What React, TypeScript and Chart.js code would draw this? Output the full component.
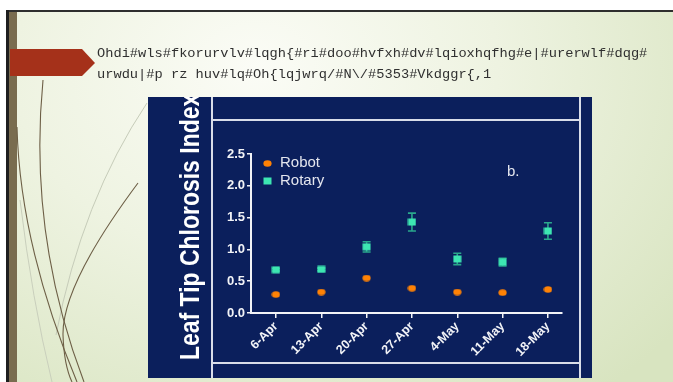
import React, { useEffect, useRef } from "react";
import { Chart, registerables } from "chart.js";

Chart.register(...registerables);

// ---- data ----
const categories = ["6-Apr", "13-Apr", "20-Apr", "27-Apr", "4-May", "11-May", "18-May"];
const seriesNames = ["Robot", "Rotary"];
const robotValues = [0.29, 0.33, 0.55, 0.39, 0.33, 0.32, 0.37];
const rotaryValues = [0.68, 0.685, 1.04, 1.43, 0.85, 0.8, 1.29];
const rotaryErrors = [0.02, 0.02, 0.08, 0.14, 0.09, 0.06, 0.13];
const yTicks = [0, 0.5, 1.0, 1.5, 2.0, 2.5];
const yTitle = "Leaf Tip Chlorosis Index";
const panelLabel = "b.";
const slideTitleLines = [
  "Ohdi#wls#fkorurvlv#lqgh{#ri#doo#hvfxh#dv#lqioxhqfhg#e|#urerwlf#dqg#",
  "urwdu|#p rz huv#lq#Oh{lqjwrq/#N\\/#5353#Vkdggr{,1",
];

// ---- styles ----
const NAVY = "#0b1f5c";
const ORANGE = "#ff8205";
const TEAL = "#3de6b2";
const TEAL_DARK = "#2aa88c";
const WHITE = "#f2f3f7";
const LEGEND_TEXT = "#e4e6ee";
const LINE = "#d9dde9";
const SANS = "'Liberation Sans', Arial, sans-serif";

function makeMarker(w: number, h: number, draw: (g: CanvasRenderingContext2D) => void) {
  const c = document.createElement("canvas");
  c.width = w;
  c.height = h;
  const g = c.getContext("2d")!;
  draw(g);
  return c;
}

export default function App() {
  const canvasRef = useRef<HTMLCanvasElement>(null);

  useEffect(() => {
    const canvas = canvasRef.current!;
    const robotMarker = makeMarker(9, 7, (g) => {
      g.fillStyle = ORANGE;
      g.beginPath();
      g.ellipse(4.5, 3.5, 4.1, 3.2, 0, 0, Math.PI * 2);
      g.fill();
    });
    const rotaryMarker = makeMarker(9, 8, (g) => {
      g.fillStyle = TEAL;
      g.fillRect(0.5, 0.5, 8, 7);
    });

    const errorBars = {
      id: "errorBars",
      beforeDatasetsDraw(chart: any) {
        const ctx = chart.ctx;
        const xs = chart.scales.x;
        const ys = chart.scales.y;
        ctx.save();
        ctx.strokeStyle = TEAL_DARK;
        ctx.lineWidth = 1.6;
        rotaryValues.forEach((v, i) => {
          const e = rotaryErrors[i];
          const x = xs.getPixelForValue(i);
          const y1 = ys.getPixelForValue(v + e);
          const y2 = ys.getPixelForValue(v - e);
          ctx.beginPath();
          ctx.moveTo(x, y1);
          ctx.lineTo(x, y2);
          ctx.moveTo(x - 4, y1);
          ctx.lineTo(x + 4, y1);
          ctx.moveTo(x - 4, y2);
          ctx.lineTo(x + 4, y2);
          ctx.stroke();
        });
        ctx.restore();
      },
    };

    const overlay = {
      id: "overlay",
      afterDraw(chart: any) {
        const ctx = chart.ctx;
        const a = chart.chartArea;
        ctx.save();
        const mx = a.left + 16;
        const rows = [a.top + 9, a.top + 27];
        const markers = [robotMarker, rotaryMarker];
        ctx.font = `15px ${SANS}`;
        ctx.fillStyle = LEGEND_TEXT;
        ctx.textBaseline = "middle";
        ctx.textAlign = "left";
        seriesNames.forEach((name, i) => {
          const m = markers[i];
          ctx.drawImage(m, Math.round(mx - m.width / 2), Math.round(rows[i] - m.height / 2));
          ctx.fillText(name, mx + 13, rows[i]);
        });
        ctx.fillText(panelLabel, a.left + 256, a.top + 18);
        ctx.restore();
      },
    };

    const chart = new Chart(canvas, {
      type: "scatter",
      data: {
        datasets: [
          {
            label: seriesNames[0],
            data: robotValues.map((v, i) => ({ x: i, y: v })),
            pointStyle: robotMarker as any,
            pointRadius: 4,
            backgroundColor: ORANGE,
            borderWidth: 0,
          },
          {
            label: seriesNames[1],
            data: rotaryValues.map((v, i) => ({ x: i, y: v })),
            pointStyle: rotaryMarker as any,
            pointRadius: 4,
            backgroundColor: TEAL,
            borderWidth: 0,
          },
        ],
      },
      options: {
        animation: false,
        responsive: false,
        events: [],
        layout: { padding: { top: 33, right: 17, left: 0, bottom: 0 } },
        plugins: { legend: { display: false }, tooltip: { enabled: false } },
        scales: {
          x: {
            type: "linear",
            min: -0.55,
            max: 6.31,
            afterBuildTicks: (s: any) => {
              s.ticks = categories.map((_, i) => ({ value: i }));
            },
            afterFit: (s: any) => {
              s.height = 48;
            },
            ticks: {
              callback: (v: any) => categories[v] ?? "",
              color: WHITE,
              font: { family: SANS, size: 12.5, weight: "bold" as const },
              minRotation: 45,
              maxRotation: 45,
              autoSkip: false,
              padding: 1,
            },
            grid: { display: true, drawOnChartArea: false, drawTicks: true, tickLength: 5, color: WHITE, lineWidth: 1.5 },
            border: { display: true, color: WHITE, width: 2 },
          },
          y: {
            min: 0,
            max: 2.5,
            afterBuildTicks: (s: any) => {
              s.ticks = yTicks.map((v) => ({ value: v }));
            },
            afterFit: (s: any) => {
              s.width = 38;
            },
            ticks: {
              callback: (v: any) => Number(v).toFixed(1),
              color: WHITE,
              font: { family: SANS, size: 13, weight: "bold" as const },
              padding: 2,
            },
            grid: { display: true, drawOnChartArea: false, drawTicks: true, tickLength: 4, color: WHITE, lineWidth: 1.5 },
            border: { display: true, color: WHITE, width: 2 },
          },
        },
      } as any,
      plugins: [errorBars, overlay],
    });
    return () => chart.destroy();
  }, []);

  const abs = (s: React.CSSProperties): React.CSSProperties => ({ position: "absolute", ...s });

  return (
    <div
      style={{
        position: "fixed",
        left: 0,
        top: 0,
        width: 673,
        height: 382,
        overflow: "hidden",
        background: "radial-gradient(ellipse 80% 110% at 38% 18%, #fbfcf6 0%, #eef3e1 45%, #d8e4c0 100%)",
      }}
    >
      {/* top white band + dark rule */}
      <div style={abs({ left: 0, top: 0, width: 673, height: 10, background: "#ffffff" })} />
      <div style={abs({ left: 6, top: 10, width: 667, height: 2, background: "#2e2e2e" })} />
      {/* left edge */}
      <div style={abs({ left: 0, top: 0, width: 6, height: 382, background: "#ffffff" })} />
      <div style={abs({ left: 6, top: 10, width: 3, height: 372, background: "#1e1e1e" })} />
      <div style={abs({ left: 9, top: 12, width: 8, height: 370, background: "#796c4f" })} />

      {/* decorative curves */}
      <svg width={673} height={382} style={abs({ left: 0, top: 0 })}>
        <path d="M147,103 Q82,200 56,335" stroke="#c6ccb9" strokeWidth={1} fill="none" />
        <path d="M20,200 Q32,300 52,382" stroke="#c9cfbc" strokeWidth={1} fill="none" />
        <path d="M43,80 Q28,235 84,382" stroke="#6d5f46" strokeWidth={1.1} fill="none" />
        <path d="M17,127 Q20,245 77,382" stroke="#6d5f46" strokeWidth={1.1} fill="none" />
        <path d="M138,183 Q62,285 63,335 Q64,365 72,382" stroke="#6d5f46" strokeWidth={1.1} fill="none" />
      </svg>

      {/* red arrow */}
      <svg width={100} height={40} style={abs({ left: 0, top: 45 })}>
        <polygon points="10,4 82,4 95,18 82,31 10,31" fill="#a5311a" />
      </svg>

      {/* slide title */}
      {slideTitleLines.map((t, i) => (
        <div
          key={i}
          style={abs({
            left: 97,
            top: 43 + i * 21,
            height: 21,
            lineHeight: "21px",
            fontFamily: "'Liberation Mono', 'Courier New', monospace",
            fontSize: 13.7,
            color: "#303030",
            whiteSpace: "pre",
          })}
        >
          {t}
        </div>
      ))}

      {/* chart panel */}
      <div style={abs({ left: 148, top: 97, width: 444, height: 281, background: NAVY, overflow: "hidden" })}>
        <div style={abs({ left: 63, top: 0, width: 2, height: 281, background: LINE })} />
        <div style={abs({ left: 431, top: 0, width: 2, height: 281, background: LINE })} />
        <div style={abs({ left: 64, top: 22, width: 368, height: 2, background: LINE })} />
        <div style={abs({ left: 64, top: 265, width: 368, height: 2, background: LINE })} />
        <div
          style={abs({
            left: 28,
            top: 263,
            fontFamily: SANS,
            fontWeight: "bold",
            fontSize: 28,
            lineHeight: 1,
            color: "#ffffff",
            whiteSpace: "nowrap",
            transformOrigin: "0 0",
            transform: "rotate(-90deg) scaleX(0.82)",
          })}
        >
          {yTitle}
        </div>
        <canvas ref={canvasRef} width={366} height={240} style={abs({ left: 65, top: 24 })} />
      </div>
    </div>
  );
}
